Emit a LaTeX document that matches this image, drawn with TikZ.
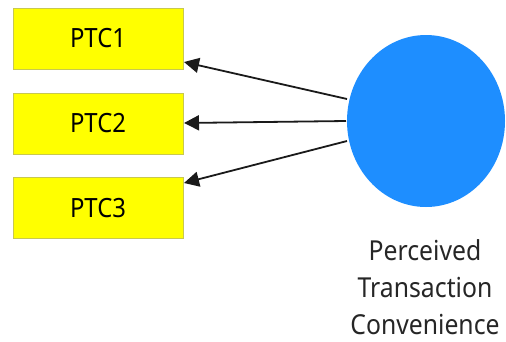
\documentclass[tikz,border=0pt]{standalone}
\usepackage{fontspec}
\setmainfont[FakeStretch=0.9]{Noto Sans}
\usetikzlibrary{arrows.meta,shapes.geometric}
\definecolor{boxyellow}{HTML}{FFFF00}
\definecolor{boxedge}{HTML}{C8C850}
\definecolor{lvblue}{HTML}{1E8EFF}
\definecolor{linegray}{HTML}{1A1A1A}
\begin{document}
\begin{tikzpicture}[x=1pt,y=-1pt,
  ind/.style={draw=boxedge,line width=1pt,fill=boxyellow,minimum width=170pt,minimum height=61pt,inner sep=0pt,font=\fontsize{26.5}{30}\selectfont},
  lv/.style={ellipse,fill=lvblue,minimum width=158pt,minimum height=172pt,inner sep=0pt},
  load/.style={draw=linegray,line width=1.8pt,-{Triangle[length=15pt,width=15pt]}}]
\useasboundingbox (0,0) rectangle (506,341);
\node[ind] (p1) at (98,38.5) {PTC1};
\node[ind] (p2) at (98,123.5) {PTC2};
\node[ind] (p3) at (98,208) {PTC3};
\node[lv] (c) at (426,121) {};
\node[align=center,font=\fontsize{27.5}{37}\selectfont,text=black!85] (lab) at (425,287) {Perceived\\Transaction\\Convenience};
\coordinate (s1) at (347,99);
\coordinate (s2) at (346,121);
\coordinate (s3) at (347,141);
\coordinate (e1) at (184,62);
\coordinate (e2) at (184,123);
\coordinate (e3) at (184,183);
\draw[load] (s1) -- (e1);
\draw[load] (s2) -- (e2);
\draw[load] (s3) -- (e3);
\end{tikzpicture}
\end{document}
